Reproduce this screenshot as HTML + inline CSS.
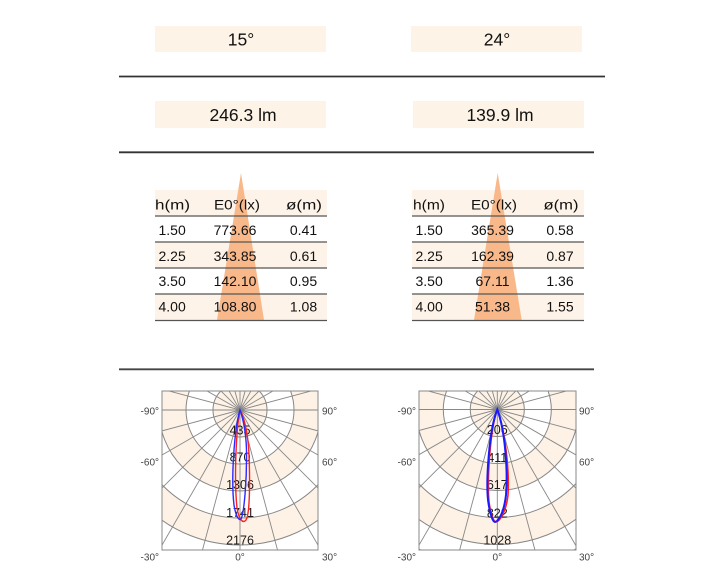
<!DOCTYPE html>
<html>
<head>
<meta charset="utf-8">
<style>
  html,body{margin:0;padding:0;background:#fff;width:727px;height:585px;overflow:hidden;}
  svg{display:block;position:absolute;left:0;top:0;}
  text{font-family:"Liberation Sans","DejaVu Sans",sans-serif;}
</style>
</head>
<body>
<svg width="727" height="585" viewBox="0 0 727 585" xmlns="http://www.w3.org/2000/svg">
  <defs>
    <clipPath id="c1" clipPathUnits="userSpaceOnUse"><rect x="162" y="391" width="156" height="159"/></clipPath>
    <clipPath id="c2" clipPathUnits="userSpaceOnUse"><rect x="419" y="391" width="157" height="159"/></clipPath>
    <g id="grid">
      <circle r="135" fill="#fdf2e5"/>
      <circle r="108" fill="#ffffff"/>
      <circle r="81" fill="#fdf2e5"/>
      <circle r="54" fill="#ffffff"/>
      <circle r="27" fill="#fdf2e5"/>
      <g fill="none" stroke="#878787" stroke-width="1">
        <circle r="27"/><circle r="54"/><circle r="81"/><circle r="108"/><circle r="135"/><circle r="160"/>
      </g>
      <g stroke="#878787" stroke-width="0.9">
        <line x1="0" y1="-164" x2="0" y2="164"/>
        <line x1="0" y1="-164" x2="0" y2="164" transform="rotate(15)"/>
        <line x1="0" y1="-164" x2="0" y2="164" transform="rotate(30)"/>
        <line x1="0" y1="-164" x2="0" y2="164" transform="rotate(45)"/>
        <line x1="0" y1="-164" x2="0" y2="164" transform="rotate(60)"/>
        <line x1="0" y1="-164" x2="0" y2="164" transform="rotate(75)"/>
        <line x1="0" y1="-164" x2="0" y2="164" transform="rotate(90)"/>
        <line x1="0" y1="-164" x2="0" y2="164" transform="rotate(105)"/>
        <line x1="0" y1="-164" x2="0" y2="164" transform="rotate(120)"/>
        <line x1="0" y1="-164" x2="0" y2="164" transform="rotate(135)"/>
        <line x1="0" y1="-164" x2="0" y2="164" transform="rotate(150)"/>
        <line x1="0" y1="-164" x2="0" y2="164" transform="rotate(165)"/>
      </g>
    </g>
  </defs>

  <!-- Top boxes -->
  <rect x="155" y="26" width="171" height="26" fill="#fdf3e7"/>
  <rect x="411" y="26" width="171" height="26" fill="#fdf3e7"/>
  <text x="241" y="45.5" font-size="17.5" text-anchor="middle" fill="#111">15°</text>
  <text x="497" y="45.5" font-size="17.5" text-anchor="middle" fill="#111">24°</text>
  <line x1="119" y1="76.5" x2="605" y2="76.5" stroke="#333" stroke-width="1.8"/>

  <rect x="155" y="101" width="171" height="27" fill="#fdf3e7"/>
  <rect x="413" y="101" width="171" height="27" fill="#fdf3e7"/>
  <text x="243" y="120.8" font-size="17.5" text-anchor="middle" fill="#111">246.3 lm</text>
  <text x="500" y="120.8" font-size="17.5" text-anchor="middle" fill="#111">139.9 lm</text>
  <line x1="119" y1="152.3" x2="594" y2="152.3" stroke="#333" stroke-width="1.8"/>

  <!-- Left table -->
  <rect x="155" y="190" width="172" height="26" fill="#fdf3e8"/>
  <rect x="155" y="242" width="172" height="26" fill="#fdf3e8"/>
  <rect x="155" y="294" width="172" height="26" fill="#fdf3e8"/>
  <polygon points="241,173 217,320 264,320" fill="#f8b88a"/>
  <g stroke="#555" stroke-width="1.2">
    <line x1="155" y1="216" x2="327" y2="216"/>
    <line x1="155" y1="242" x2="327" y2="242"/>
    <line x1="155" y1="268" x2="327" y2="268"/>
    <line x1="155" y1="294" x2="327" y2="294"/>
    <line x1="155" y1="320.5" x2="327" y2="320.5"/>
  </g>
  <g font-size="14" fill="#111">
    <text x="155" y="209.5" textLength="35" lengthAdjust="spacingAndGlyphs">h(m)</text>
    <text x="214" y="209.5" textLength="46" lengthAdjust="spacingAndGlyphs">E0°(lx)</text>
    <text x="286" y="209.5" textLength="36" lengthAdjust="spacingAndGlyphs">ø(m)</text>
    <text x="158.5" y="235">1.50</text>
    <text x="158.5" y="261">2.25</text>
    <text x="158.5" y="286">3.50</text>
    <text x="158.5" y="311.5">4.00</text>
    <g text-anchor="middle">
      <text x="235" y="235">773.66</text>
      <text x="235" y="261">343.85</text>
      <text x="235" y="286">142.10</text>
      <text x="235" y="311.5">108.80</text>
      <text x="303.5" y="235">0.41</text>
      <text x="303.5" y="261">0.61</text>
      <text x="303.5" y="286">0.95</text>
      <text x="303.5" y="311.5">1.08</text>
    </g>
  </g>

  <!-- Right table -->
  <rect x="412" y="190" width="172" height="26" fill="#fdf3e8"/>
  <rect x="412" y="242" width="172" height="26" fill="#fdf3e8"/>
  <rect x="412" y="294" width="172" height="26" fill="#fdf3e8"/>
  <polygon points="497.7,173 474,320 521.7,320" fill="#f8b88a"/>
  <g stroke="#555" stroke-width="1.2">
    <line x1="412" y1="216" x2="584" y2="216"/>
    <line x1="412" y1="242" x2="584" y2="242"/>
    <line x1="412" y1="268" x2="584" y2="268"/>
    <line x1="412" y1="294" x2="584" y2="294"/>
    <line x1="412" y1="320.5" x2="584" y2="320.5"/>
  </g>
  <g font-size="14" fill="#111">
    <text x="413" y="209.5" textLength="32" lengthAdjust="spacingAndGlyphs">h(m)</text>
    <text x="471" y="209.5" textLength="46" lengthAdjust="spacingAndGlyphs">E0°(lx)</text>
    <text x="543.5" y="209.5" textLength="35" lengthAdjust="spacingAndGlyphs">ø(m)</text>
    <text x="415.5" y="235">1.50</text>
    <text x="415.5" y="261">2.25</text>
    <text x="415.5" y="286">3.50</text>
    <text x="415.5" y="311.5">4.00</text>
    <g text-anchor="middle">
      <text x="492.5" y="235">365.39</text>
      <text x="492.5" y="261">162.39</text>
      <text x="492.5" y="286">67.11</text>
      <text x="492.5" y="311.5">51.38</text>
      <text x="560" y="235">0.58</text>
      <text x="560" y="261">0.87</text>
      <text x="560" y="286">1.36</text>
      <text x="560" y="311.5">1.55</text>
    </g>
  </g>

  <line x1="119" y1="369.3" x2="594" y2="369.3" stroke="#444" stroke-width="1.8"/>

  <!-- Left polar -->
  <rect x="162" y="391" width="156" height="159" fill="#fff"/>
  <g clip-path="url(#c1)">
    <use href="#grid" transform="translate(240,410)"/>
  </g>
  <rect x="162" y="391" width="156" height="159" fill="none" stroke="#8a8a8a" stroke-width="1"/>
  <g font-size="12.5" fill="#1a1a1a" text-anchor="middle">
    <text x="240" y="434.5">435</text>
    <text x="240" y="461.5">870</text>
    <text x="240" y="489">1306</text>
    <text x="240" y="517">1741</text>
    <text x="240" y="544.5">2176</text>
  </g>
  <path d="M240,410 C236,430 234,480 237,508 C239,520 243,524 246,520 C250,514 250,480 249,455 C248,430 243,415 240,410 Z" fill="none" stroke="#ff2020" stroke-width="1.4"/>
  <path d="M240,410 C234,430 231,480 234,505 C236,517 239,521 241,519 C244,514 247,480 246.5,450 C246,430 242,415 240,410 Z" fill="none" stroke="#2a2aff" stroke-width="1.4"/>
  <g font-size="10" fill="#444">
    <text x="159" y="414.5" text-anchor="end">-90°</text>
    <text x="159" y="465.5" text-anchor="end">-60°</text>
    <text x="159" y="560.5" text-anchor="end">-30°</text>
    <text x="240" y="560.5" text-anchor="middle">0°</text>
    <text x="322" y="560.5">30°</text>
    <text x="322" y="414.5">90°</text>
    <text x="322" y="465.5">60°</text>
  </g>

  <!-- Right polar -->
  <rect x="419" y="391" width="157" height="159" fill="#fff"/>
  <g clip-path="url(#c2)">
    <use href="#grid" transform="translate(497.3,409.5)"/>
  </g>
  <rect x="419" y="391" width="157" height="159" fill="none" stroke="#8a8a8a" stroke-width="1"/>
  <g font-size="12.5" fill="#1a1a1a" text-anchor="middle">
    <text x="497.3" y="434">206</text>
    <text x="497.3" y="462">411</text>
    <text x="497.3" y="489">617</text>
    <text x="497.3" y="517.5">822</text>
    <text x="497.3" y="544.5">1028</text>
  </g>
  <path d="M497.3,409.5 C490,430 487,480 489,502 C491,516 494,522 496,522 C500,521 506,512 508,495 C509.5,470 505,430 497.3,409.5 Z" fill="none" stroke="#ff2020" stroke-width="1.6"/>
  <path d="M497.3,409.5 C489,430 486,480 488,500 C490,515 493,522 495,522 C499,521 504,512 506,495 C508,470 505,430 497.3,409.5 Z" fill="none" stroke="#1a1aff" stroke-width="2"/>
  <g font-size="10" fill="#444">
    <text x="416" y="414.5" text-anchor="end">-90°</text>
    <text x="416" y="465.5" text-anchor="end">-60°</text>
    <text x="416" y="560.5" text-anchor="end">-30°</text>
    <text x="497.3" y="560.5" text-anchor="middle">0°</text>
    <text x="579" y="560.5">30°</text>
    <text x="579" y="414.5">90°</text>
    <text x="579" y="465.5">60°</text>
  </g>
</svg>
</body>
</html>
